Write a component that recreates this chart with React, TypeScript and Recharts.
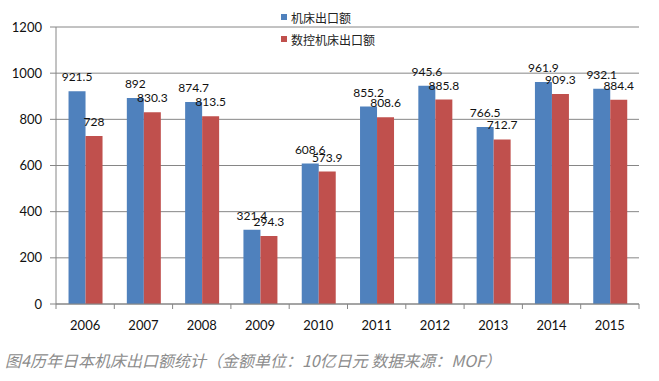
import React from "react";
import { BarChart, Bar, XAxis, YAxis, CartesianGrid, LabelList } from "recharts";

const years = ["2006", "2007", "2008", "2009", "2010", "2011", "2012", "2013", "2014", "2015"];
const machineExports = [921.5, 892, 874.7, 321.4, 608.6, 855.2, 945.6, 766.5, 961.9, 932.1];
const cncExports = [728, 830.3, 813.5, 294.3, 573.9, 808.6, 885.8, 712.7, 909.3, 884.4];
const yTicks = [0, 200, 400, 600, 800, 1000, 1200];
const seriesNames = ["机床出口额", "数控机床出口额"];
const caption = "图4历年日本机床出口额统计（金额单位：10亿日元 数据来源：MOF）";

const BLUE = "#4F81BD";
const RED = "#C0504D";
const AXIS = "#868686";
const FONT = "Lato, 'Noto Sans CJK SC', sans-serif";

const data = years.map((y, i) => ({ year: y, a: machineExports[i], b: cncExports[i] }));

const XTick = (props: any) => {
  const { x, y, payload, index, visibleTicksCount } = props;
  const half = payload && payload.offset ? payload.offset : 29.15;
  const axisY = y - 12 - 5;
  return (
    <g>
      <line x1={x - half} x2={x - half} y1={axisY} y2={axisY + 5} stroke={AXIS} />
      {index === visibleTicksCount - 1 && (
        <line x1={x + half} x2={x + half} y1={axisY} y2={axisY + 5} stroke={AXIS} />
      )}
      <text x={x} y={y} dy="0.71em" textAnchor="middle" fontSize={13} fill="#111" fontFamily={FONT}>
        {payload.value}
      </text>
    </g>
  );
};

export default function App() {
  return (
    <div style={{ position: "absolute", left: 0, top: 0, width: 659, height: 381, background: "#fff" }}>
      <BarChart
        width={659}
        height={340}
        data={data}
        margin={{ top: 27, right: 20, bottom: 6, left: 0 }}
        barCategoryGap="21.5%"
        barGap={0}
      >
        <CartesianGrid vertical={false} stroke={AXIS} />
        <XAxis
          dataKey="year"
          height={30}
          stroke={AXIS}
          tickLine={false}
          tickSize={5}
          tickMargin={12}
          tick={<XTick />}
          interval={0}
        />
        <YAxis
          width={56}
          domain={[0, 1200]}
          ticks={yTicks}
          stroke={AXIS}
          tickSize={6}
          tickMargin={8}
          tick={{ fill: "#111", fontSize: 13, fontFamily: FONT }}
        />
        <Bar dataKey="a" name={seriesNames[0]} fill={BLUE} isAnimationActive={false}>
          <LabelList dataKey="a" position="top" offset={10} fontSize={12} fill="#111" fontFamily={FONT} />
        </Bar>
        <Bar dataKey="b" name={seriesNames[1]} fill={RED} isAnimationActive={false}>
          <LabelList dataKey="b" position="top" offset={10} fontSize={12} fill="#111" fontFamily={FONT} />
        </Bar>
      </BarChart>
      <div
        style={{
          position: "absolute",
          left: 281,
          top: 6,
          fontFamily: "'Noto Sans CJK SC', sans-serif",
          fontSize: 12,
          color: "#222",
        }}
      >
        {[BLUE, RED].map((c, i) => (
          <div key={i} style={{ display: "flex", alignItems: "center", height: 22 }}>
            <span style={{ width: 6, height: 6, background: c, display: "inline-block", marginRight: 4 }} />
            <span>{seriesNames[i]}</span>
          </div>
        ))}
      </div>
      <div
        style={{
          position: "absolute",
          left: 5,
          top: 350,
          fontSize: 16,
          lineHeight: "20px",
          fontStyle: "italic",
          color: "#8c8c8c",
          fontFamily: "'Noto Sans CJK SC', sans-serif",
          whiteSpace: "nowrap",
        }}
      >
        {caption}
      </div>
    </div>
  );
}
